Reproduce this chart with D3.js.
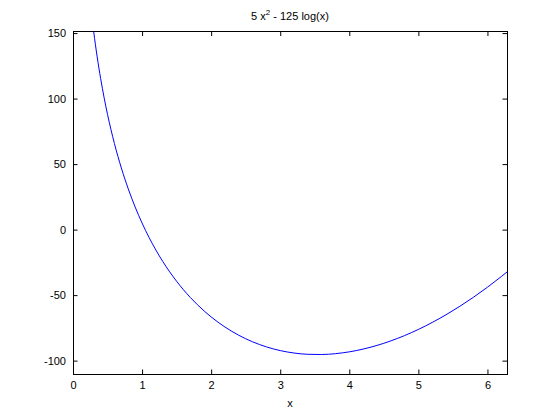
<!DOCTYPE html>
<html><head><meta charset="utf-8">
<script src="https://cdn.jsdelivr.net/npm/d3@7"></script>
<style>body{margin:0;background:#fff}svg{display:block}text{font-family:"Liberation Sans",Arial,Helvetica,sans-serif}</style>
</head><body>
<svg id="c" width="560" height="420"></svg>
<script>
const xs = [0.2,0.25,0.3,0.35,0.4,0.45,0.5,0.6,0.7,0.8,0.9,1.0,1.1,1.2,1.3,1.4,1.5,1.6,1.7,1.8,1.9,2.0,2.2,2.4,2.6,2.8,3.0,3.2,3.4,3.6,3.8,4.0,4.2,4.4,4.6,4.8,5.0,5.2,5.4,5.6,5.8,6.0,6.2,6.2832];
const ys = [201.38,173.60,150.95,131.84,115.34,100.83,87.89,65.65,47.03,31.09,17.22,5.0,-5.86,-15.59,-24.35,-32.26,-39.43,-45.95,-51.88,-57.27,-62.18,-66.64,-74.36,-80.63,-85.64,-89.50,-92.33,-94.19,-95.17,-95.32,-94.68,-93.29,-91.19,-88.40,-84.96,-80.88,-76.18,-70.88,-65.00,-58.55,-51.53,-43.97,-35.87,-32.34];
const xTicks = [0,1,2,3,4,5,6];
const yTicks = [-100,-50,0,50,100,150];
const xDomain = [0, 6.2832];
const yDomain = [-110.2, 151.2];

const svg = d3.select("#c");
const L=73, R=507, T=31.5, B=374;
const x = d3.scaleLinear().domain(xDomain).range([L,R]);
const y = d3.scaleLinear().domain(yDomain).range([B,T]);
const fmt = d => String(d);

svg.append("defs").append("clipPath").attr("id","clip")
  .append("rect").attr("x",L).attr("y",T).attr("width",R-L).attr("height",B-T);

const tl = 4.5;
function styleAxis(g){
  g.select(".domain").remove();
  g.selectAll("line").attr("stroke","#000");
  g.selectAll("text").attr("font-size","11px").attr("fill","#000");
}
svg.append("g").attr("transform",`translate(0,${B})`)
  .call(d3.axisBottom(x).tickValues(xTicks).tickFormat(fmt).tickSizeInner(-tl).tickSizeOuter(0).tickPadding(7))
  .call(styleAxis);
svg.append("g").attr("transform",`translate(0,${T})`)
  .call(d3.axisTop(x).tickValues(xTicks).tickFormat("").tickSizeInner(-tl).tickSizeOuter(0))
  .call(styleAxis);
svg.append("g").attr("transform",`translate(${L},0)`)
  .call(d3.axisLeft(y).tickValues(yTicks).tickFormat(fmt).tickSizeInner(-tl).tickSizeOuter(0).tickPadding(7))
  .call(styleAxis);
svg.append("g").attr("transform",`translate(${R},0)`)
  .call(d3.axisRight(y).tickValues(yTicks).tickFormat("").tickSizeInner(-tl).tickSizeOuter(0))
  .call(styleAxis);

svg.append("rect").attr("x",L).attr("y",T).attr("width",R-L).attr("height",B-T)
  .attr("fill","none").attr("stroke","#000").attr("stroke-width",1).attr("shape-rendering","crispEdges");

const pts = xs.map((v,i)=>[v,ys[i]]);
svg.append("path").datum(pts).attr("clip-path","url(#clip)")
  .attr("fill","none").attr("stroke","#0000ff").attr("stroke-width",1)
  .attr("d", d3.line().x(d=>x(d[0])).y(d=>y(d[1])).curve(d3.curveMonotoneX));

const title = svg.append("text").attr("x",(L+R)/2).attr("y",20).attr("text-anchor","middle").attr("font-size","11px");
title.append("tspan").text("5 x");
title.append("tspan").attr("font-size","8px").attr("dy",-5).text("2");
title.append("tspan").attr("dy",5).text(" - 125 log(x)");

svg.append("text").attr("x",(L+R)/2).attr("y",407).attr("text-anchor","middle").attr("font-size","11px").text("x");
</script>
</body></html>
